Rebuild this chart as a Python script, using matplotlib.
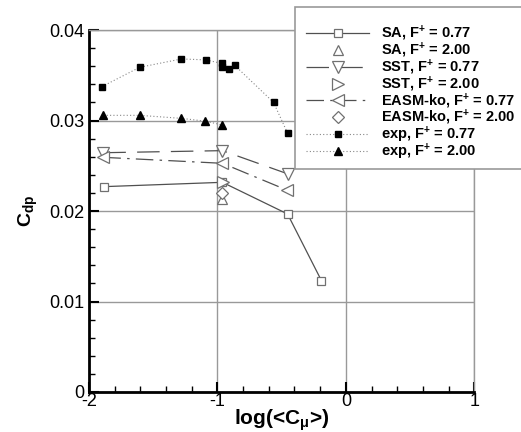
import matplotlib
matplotlib.use("Agg")
import matplotlib.pyplot as plt
from matplotlib.ticker import MultipleLocator
from matplotlib.patches import Rectangle
from matplotlib.lines import Line2D

plt.rcParams['font.family'] = ['Liberation Sans', 'DejaVu Sans']
plt.rcParams['mathtext.fontset'] = 'custom'
plt.rcParams['mathtext.rm'] = 'Liberation Sans:bold'
plt.rcParams['mathtext.it'] = 'Liberation Sans:bold'
plt.rcParams['mathtext.bf'] = 'Liberation Sans:bold'
plt.rcParams['mathtext.default'] = 'regular'

# ---- data ----
sa077_x = [-1.886, -0.961, -0.454, -0.19]
sa077_y = [0.02269, 0.02317, 0.01967, 0.0123]
sa200_x = [-0.961]
sa200_y = [0.0213]
sst077_x = [-1.888, -0.961, -0.45]
sst077_y = [0.02644, 0.02667, 0.02409]
sst200_x = [-0.955]
sst200_y = [0.0232]
easm077_x = [-1.888, -0.961, -0.455]
easm077_y = [0.02593, 0.02527, 0.02229]
easm200_x = [-0.961]
easm200_y = [0.02195]
exp077_x = [-1.90, -1.605, -1.28, -1.09, -0.965, -0.965, -0.907, -0.866, -0.563, -0.454]
exp077_y = [0.03374, 0.03588, 0.0368, 0.0367, 0.0363, 0.0359, 0.0357, 0.0361, 0.0320, 0.0286]
exp200_x = [-1.888, -1.605, -1.284, -1.10, -0.961]
exp200_y = [0.03057, 0.03057, 0.03024, 0.02994, 0.0295]

labels = [r'SA, F$^{+}$ = 0.77', r'SA, F$^{+}$ = 2.00',
          r'SST, F$^{+}$ = 0.77', r'SST, F$^{+}$ = 2.00',
          r'EASM-ko, F$^{+}$ = 0.77', r'EASM-ko, F$^{+}$ = 2.00',
          r'exp, F$^{+}$ = 0.77', r'exp, F$^{+}$ = 2.00']
xticks = [-2, -1, 0, 1]
yticks = [0, 0.01, 0.02, 0.03, 0.04]
yticklabels = ['0', '0.01', '0.02', '0.03', '0.04']

W, H = 521, 432
fig = plt.figure(figsize=(W / 100, H / 100), dpi=100)
ax = fig.add_axes([89 / W, 40 / H, (474.3 - 89) / W, (392 - 30) / H])

lc = '#505050'
mc = '#707070'
ms = 6
mew = 0.9
styles = [
    dict(color=lc, lw=0.9, linestyle='-', marker='s', ms=ms, mfc='white', mec=mc, mew=mew),
    dict(linestyle='none', marker='^', ms=ms + 1, mfc='white', mec=mc, mew=mew),
    dict(color=lc, lw=0.9, dashes=(18, 9), marker='v', ms=ms + 2, mfc='white', mec=mc, mew=mew),
    dict(linestyle='none', marker='>', ms=ms + 2, mfc='white', mec=mc, mew=mew),
    dict(color=lc, lw=0.9, dashes=(14, 5, 2, 5), marker='<', ms=ms + 2, mfc='white', mec=mc, mew=mew),
    dict(linestyle='none', marker='D', ms=ms, mfc='white', mec=mc, mew=mew),
    dict(color='#888888', lw=0.8, dashes=(1, 2), marker='s', ms=5, mfc='black', mec='black'),
    dict(color='#888888', lw=0.8, dashes=(1, 2), marker='^', ms=5.5, mfc='black', mec='black'),
]
series = [(sa077_x, sa077_y), (sa200_x, sa200_y), (sst077_x, sst077_y),
          (sst200_x, sst200_y), (easm077_x, easm077_y), (easm200_x, easm200_y),
          (exp077_x, exp077_y), (exp200_x, exp200_y)]
for (xs, ys), st, lab in zip(series, styles, labels):
    ax.plot(xs, ys, label=lab, **st)

ax.set_xlim(-2, 1)
ax.set_ylim(0, 0.04)
ax.xaxis.set_minor_locator(MultipleLocator(0.2))
ax.yaxis.set_minor_locator(MultipleLocator(0.002))
ax.set_yticks(yticks)
ax.set_yticklabels(yticklabels)
ax.set_xticks(xticks)
ax.set_xticklabels([str(v) for v in xticks])
ax.tick_params(which='both', direction='in', top=False, right=False,
               labelsize=13, width=1.5, color='black')
ax.tick_params(which='major', length=7, pad=3)
ax.tick_params(axis='x', which='major', pad=1)
ax.tick_params(which='minor', length=4, width=1)
ax.grid(True, which='major', color='#999999', lw=1)
ax.set_axisbelow(True)
for s in ['left', 'bottom']:
    ax.spines[s].set_linewidth(2)
    ax.spines[s].set_color('black')
for s in ['top', 'right']:
    ax.spines[s].set_linewidth(1)
    ax.spines[s].set_color('#999999')

ax.set_xlabel(r'log(<C$_\mu$>)', fontsize=15, fontweight='bold', labelpad=-2)
ax.set_ylabel(r'C$_{dp}$', fontsize=14, fontweight='bold', labelpad=7)

# ---- legend box (figure pixels, origin top-left) ----
def fx(px):
    return px / W

def fy(py):
    return 1 - py / H

box = Rectangle((fx(295), fy(169)), fx(W) - fx(295) + 0.01, fy(7) - fy(169),
                transform=fig.transFigure, facecolor='white', edgecolor='#999999',
                lw=1.2, zorder=5)
fig.patches.append(box)

row0, step = 33.0, 16.85
for i, (st, lab) in enumerate(zip(styles, labels)):
    yrow = row0 + i * step
    line_kw = {k: v for k, v in st.items() if k not in ('marker', 'ms', 'mfc', 'mec', 'mew')}
    if line_kw.get('linestyle') != 'none':
        fig.add_artist(Line2D([fx(306), fx(369)], [fy(yrow), fy(yrow)],
                              transform=fig.transFigure, zorder=6, **line_kw))
    fig.add_artist(Line2D([fx(338)], [fy(yrow)], transform=fig.transFigure,
                          linestyle='none', marker=st['marker'], ms=st['ms'],
                          mfc=st['mfc'], mec=st['mec'], mew=st.get('mew', 1), zorder=7))
    fig.text(fx(381), fy(yrow + 5), lab, fontsize=10.5, fontweight='bold',
             va='baseline', ha='left', zorder=7)

fig.savefig('out.png', dpi=100)
